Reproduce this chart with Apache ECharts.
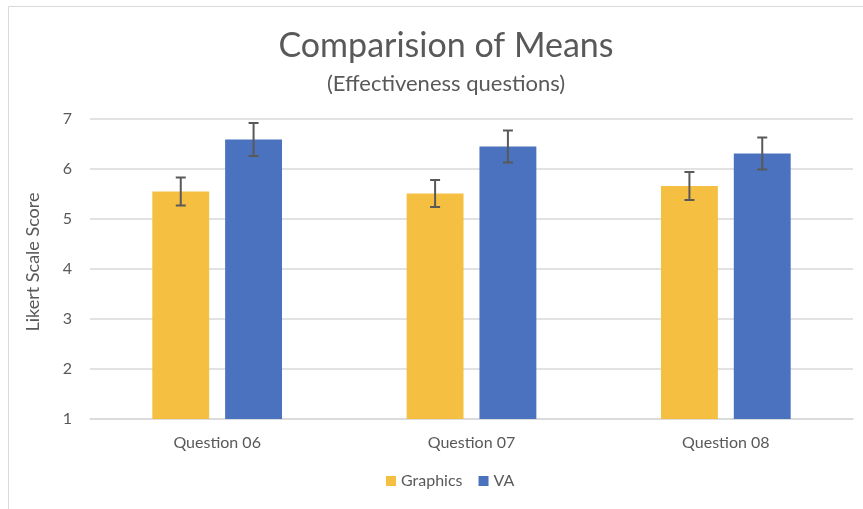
<!DOCTYPE html>
<html>
<head>
<meta charset="utf-8">
<script src="https://cdn.jsdelivr.net/npm/echarts@6/dist/echarts.min.js"></script>
<style>html,body{margin:0;padding:0;background:#fff;}#c{width:863px;height:509px;}</style>
</head>
<body>
<div id="c"></div>
<script>
var categories = ['Question 06', 'Question 07', 'Question 08'];
var graphicsMeans = [5.55, 5.51, 5.66];
var graphicsErr = [0.28, 0.27, 0.28];
var vaMeans = [6.59, 6.45, 6.31];
var vaErr = [0.33, 0.32, 0.32];
var yTicks = [1, 2, 3, 4, 5, 6, 7];

var FONT = 'Lato, "Open Sans", sans-serif';
var TXT = '#595959';
var CAT_GAP = 0.49, BAR_GAP = 0.28, NSER = 2;

function errData(means, errs) {
  return means.map(function (m, i) { return [i, m - errs[i], m + errs[i]]; });
}
function errSeries(means, errs, idx) {
  return {
    type: 'custom',
    z: 5,
    silent: true,
    data: errData(means, errs),
    encode: { x: 0, y: [1, 2] },
    renderItem: function (params, api) {
      var band = api.size([1, 0])[0];
      var group = band * (1 - CAT_GAP);
      var bw = group / (NSER + (NSER - 1) * BAR_GAP);
      var off = -group / 2 + bw / 2 + idx * bw * (1 + BAR_GAP);
      var lo = api.coord([api.value(0), api.value(1)]);
      var hi = api.coord([api.value(0), api.value(2)]);
      var x = lo[0] + off;
      var cap = 5;
      var st = { stroke: '#595959', lineWidth: 2 };
      return {
        type: 'group',
        children: [
          { type: 'line', shape: { x1: x, y1: lo[1], x2: x, y2: hi[1] }, style: st },
          { type: 'line', shape: { x1: x - cap, y1: lo[1], x2: x + cap, y2: lo[1] }, style: st },
          { type: 'line', shape: { x1: x - cap, y1: hi[1], x2: x + cap, y2: hi[1] }, style: st }
        ]
      };
    }
  };
}

var chart = echarts.init(document.getElementById('c'), null, { renderer: 'canvas' });
chart.setOption({
  animation: false,
  backgroundColor: '#fff',
  title: [
    { text: 'Comparision of Means', left: 441, textAlign: 'center', top: 24,
      textStyle: { fontFamily: FONT, fontSize: 34, fontWeight: 'normal', color: TXT } },
    { text: '(Effectiveness questions)', left: 441, textAlign: 'center', top: 68,
      textStyle: { fontFamily: FONT, fontSize: 22, fontWeight: 'normal', color: TXT } }
  ],
  graphic: [
    { type: 'rect', shape: { x: 8.5, y: 6.5, width: 880, height: 520 },
      style: { fill: 'none', stroke: '#d9d9d9', lineWidth: 1 }, silent: true },
    { type: 'text', x: 33, y: 262, rotation: Math.PI / 2, silent: true,
      style: { text: 'Likert Scale Score', fontFamily: FONT, fontSize: 18, fill: TXT,
               align: 'center', verticalAlign: 'middle' } }
  ],
  legend: {
    bottom: 15, left: 381,
    itemWidth: 10, itemHeight: 10, itemGap: 16, icon: 'rect',
    textStyle: { fontFamily: FONT, fontSize: 16, color: TXT },
    data: ['Graphics', 'VA']
  },
  grid: { left: 90, right: 10, top: 119, bottom: 90 },
  xAxis: {
    type: 'category', data: categories,
    axisLine: { lineStyle: { color: '#d9d9d9', width: 1.5 } },
    axisTick: { show: false },
    axisLabel: { fontFamily: FONT, fontSize: 16, color: TXT, margin: 16 }
  },
  yAxis: {
    type: 'value', min: 1, max: 7, interval: 1,
    axisLine: { show: false }, axisTick: { show: false },
    axisLabel: { fontFamily: FONT, fontSize: 16, color: TXT, margin: 18 },
    splitLine: { lineStyle: { color: '#d9d9d9', width: 1.5 } }
  },
  series: [
    { name: 'Graphics', type: 'bar', data: graphicsMeans, barCategoryGap: '49%', barGap: '28%',
      itemStyle: { color: '#F5BF42' } },
    { name: 'VA', type: 'bar', data: vaMeans, barCategoryGap: '49%', barGap: '28%',
      itemStyle: { color: '#4A72BE' } },
    errSeries(graphicsMeans, graphicsErr, 0),
    errSeries(vaMeans, vaErr, 1)
  ]
});
</script>
</body>
</html>
